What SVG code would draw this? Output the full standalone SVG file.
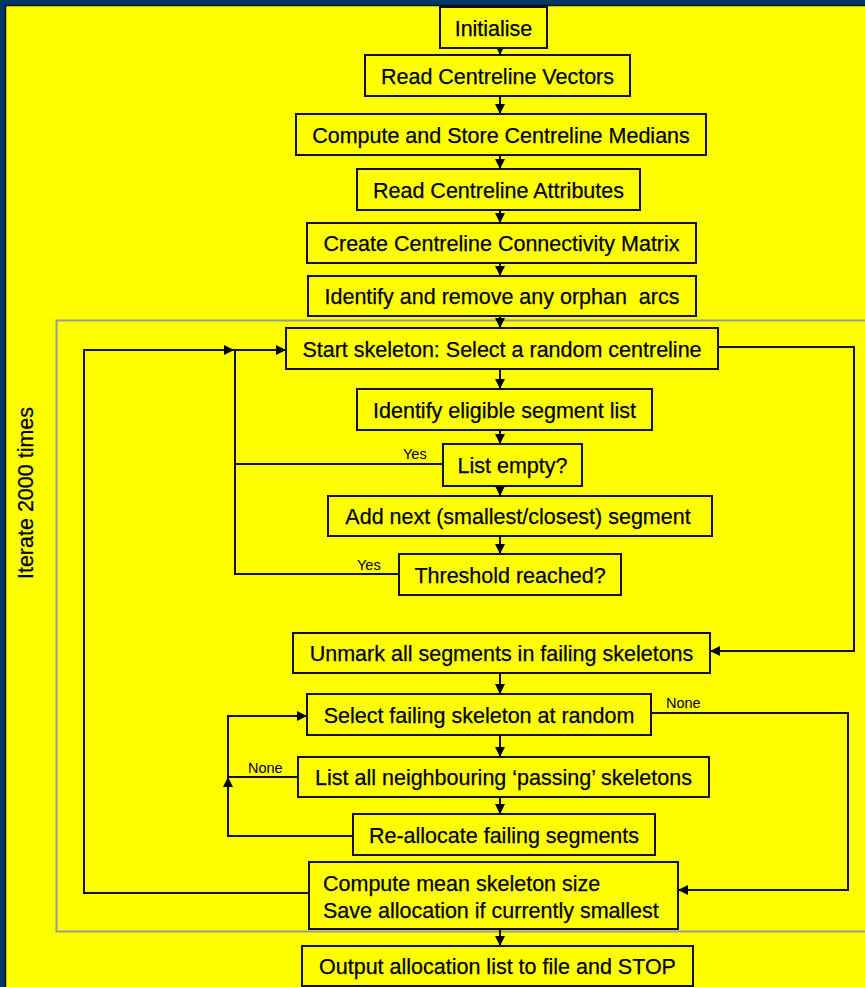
<svg xmlns="http://www.w3.org/2000/svg" width="865" height="987" viewBox="0 0 865 987">
<style>
.box{fill:#ffff00;stroke:#111;stroke-width:2}
.t{font-family:"Liberation Sans",Arial,sans-serif;font-size:21.5px;fill:#000;stroke:#000;stroke-width:0.25;text-anchor:middle}
.tl{font-family:"Liberation Sans",Arial,sans-serif;font-size:21.5px;fill:#000;stroke:#000;stroke-width:0.25}
.s{font-family:"Liberation Sans",Arial,sans-serif;font-size:14.5px;fill:#000}
.c{fill:none;stroke:#111;stroke-width:2}
.a{marker-end:url(#arr)}
</style>
<defs>
<marker id="arr" viewBox="0 0 10 10" refX="10" refY="5" markerWidth="11" markerHeight="10" orient="auto" markerUnits="userSpaceOnUse">
<path d="M0,0 L10,5 L0,10 z" fill="#000"/>
</marker>
</defs>
<rect x="0" y="0" width="865" height="987" fill="#023769"/>
<rect x="5.5" y="5.5" width="870" height="990" fill="#ffff00" stroke="#111" stroke-width="1.5"/>
<rect x="56.5" y="320.5" width="820" height="611" fill="none" stroke="#999" stroke-width="2"/>
<text class="t" transform="translate(33,493) rotate(-90)">Iterate 2000 times</text>

<g id="connectors">
<path class="c a" d="M500,48 V55"/>
<path class="c a" d="M500,96 V114"/>
<path class="c a" d="M500,155 V169"/>
<path class="c a" d="M500,210 V223"/>
<path class="c a" d="M500,263 V276"/>
<path class="c a" d="M500,316 V328"/>
<path class="c a" d="M500,369 V389"/>
<path class="c a" d="M500,430 V444"/>
<path class="c a" d="M500,486 V496"/>
<path class="c a" d="M500,536 V554"/>
<path class="c a" d="M500,673 V694"/>
<path class="c a" d="M500,735 V757"/>
<path class="c a" d="M500,797 V814"/>
<path class="c a" d="M500,929 V946"/>
<path class="c a" d="M309,893 H84 V350 H234"/>
<path class="c a" d="M443,464 H235 V350 H286"/>
<path class="c" d="M399,574 H235 V350"/>
<path class="c a" d="M718,347 H854 V651 H710"/>
<path class="c a" d="M651,713 H848 V890 H678"/>
<path class="c a" d="M353,836 H228 V777"/>
<path class="c a" d="M228,777 V716 H307"/>
<path class="c" d="M298,777 H228"/>
<text class="s" x="403" y="459">Yes</text>
<text class="s" x="357" y="570">Yes</text>
<text class="s" x="666" y="708">None</text>
<text class="s" x="248" y="773">None</text>
</g>

<g id="initialise"><rect class="box" x="440" y="7" width="107" height="41"/><text class="t" x="493.5" y="36">Initialise</text></g>
<g id="read-vectors"><rect class="box" x="365" y="55" width="265" height="41"/><text class="t" x="497.5" y="84">Read Centreline Vectors</text></g>
<g id="compute-medians"><rect class="box" x="296" y="114" width="410" height="41"/><text class="t" x="501" y="143">Compute and Store Centreline Medians</text></g>
<g id="read-attributes"><rect class="box" x="357" y="169" width="283" height="41"/><text class="t" x="498.5" y="198">Read Centreline Attributes</text></g>
<g id="connectivity"><rect class="box" x="307" y="223" width="389" height="40"/><text class="t" x="501.5" y="251">Create Centreline Connectivity Matrix</text></g>
<g id="orphan"><rect class="box" x="308" y="276" width="388" height="40"/><text class="t" x="502" y="304">Identify and remove any orphan&#160; arcs</text></g>
<g id="start-skeleton"><rect class="box" x="286" y="328" width="432" height="41"/><text class="t" x="502" y="357">Start skeleton: Select a random centreline</text></g>
<g id="eligible"><rect class="box" x="357" y="389" width="295" height="41"/><text class="t" x="504.5" y="418">Identify eligible segment list</text></g>
<g id="list-empty"><rect class="box" x="443" y="444" width="139" height="42"/><text class="t" x="512.5" y="473">List empty?</text></g>
<g id="add-next"><rect class="box" x="328" y="496" width="384" height="40"/><text class="t" x="518" y="524">Add next (smallest/closest) segment</text></g>
<g id="threshold"><rect class="box" x="399" y="554" width="222" height="41"/><text class="t" x="510" y="583">Threshold reached?</text></g>
<g id="unmark"><rect class="box" x="293" y="633" width="417" height="40"/><text class="t" x="501.5" y="661">Unmark all segments in failing skeletons</text></g>
<g id="select-failing"><rect class="box" x="307" y="694" width="344" height="41"/><text class="t" x="479" y="723">Select failing skeleton at random</text></g>
<g id="neighbouring"><rect class="box" x="298" y="757" width="411" height="40"/><text class="t" x="503.5" y="785">List all neighbouring ‘passing’ skeletons</text></g>
<g id="reallocate"><rect class="box" x="353" y="814" width="302" height="41"/><text class="t" x="504" y="843">Re-allocate failing segments</text></g>
<g id="compute-mean"><rect class="box" x="309" y="862" width="369" height="67"/><text class="tl" x="323" y="891">Compute mean skeleton size</text><text class="tl" x="323" y="918">Save allocation if currently smallest</text></g>
<g id="output"><rect class="box" x="302" y="946" width="391" height="40"/><text class="t" x="497.5" y="974">Output allocation list to file and STOP</text></g>
</svg>
